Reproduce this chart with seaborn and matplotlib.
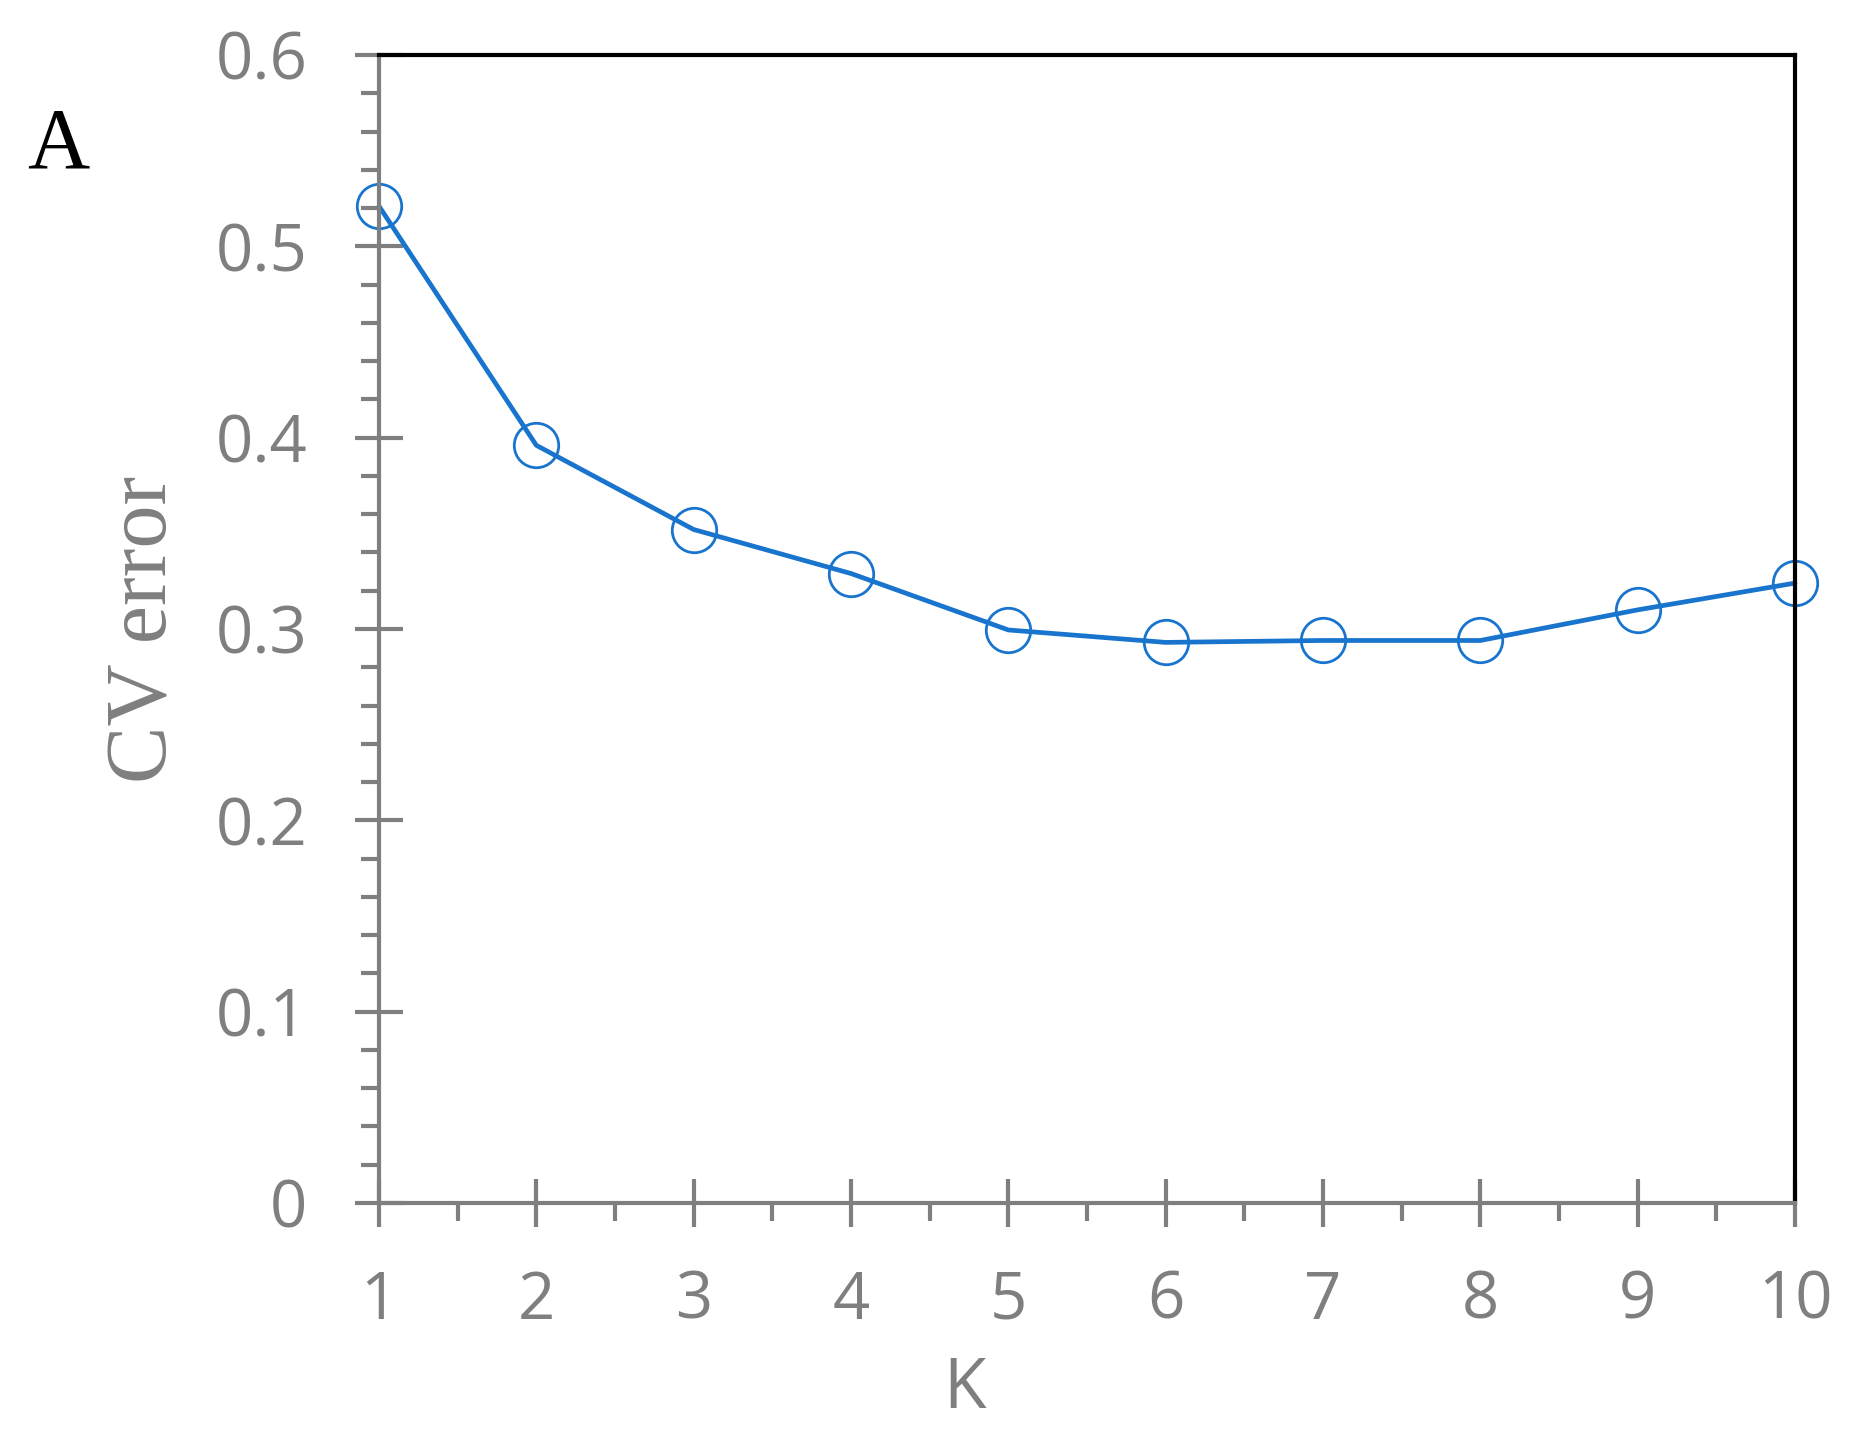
import numpy as np
import pandas as pd
import matplotlib
matplotlib.use('Agg')
import matplotlib.pyplot as plt
from matplotlib.ticker import MultipleLocator, FuncFormatter
import seaborn as sns

# cross-validation error for each K
k_vals  = [1, 2, 3, 4, 5, 6, 7, 8, 9, 10]
cv_err  = [0.521, 0.396, 0.352, 0.329, 0.2995, 0.293, 0.294, 0.294, 0.310, 0.324]

sns.set_style('white')
plt.rcParams['font.family'] = ['Open Sans', 'DejaVu Sans']

gray = '#7F7F7F'; blue = '#1874CD'

fig = plt.figure(figsize=(18.57, 14.31), dpi=100)
ax = fig.add_axes([379/1857, 228/1431, 1416/1857, 1148/1431])

df = pd.DataFrame({'K': k_vals, 'CV': cv_err})
sns.lineplot(data=df, x='K', y='CV', ax=ax, color=blue, linewidth=3.4,
             marker='o', markersize=32, markerfacecolor='none',
             markeredgecolor=blue, markeredgewidth=2.0)
for ln in ax.lines:
    ln.set_clip_on(False); ln.set_linewidth(3.4)

ax.set_xlim(1, 10); ax.set_ylim(0, 0.6)
ax.xaxis.set_major_locator(MultipleLocator(1)); ax.xaxis.set_minor_locator(MultipleLocator(0.5))
ax.yaxis.set_major_locator(MultipleLocator(0.1)); ax.yaxis.set_minor_locator(MultipleLocator(0.02))
ax.yaxis.set_major_formatter(FuncFormatter(lambda v, p: '0' if abs(v) < 1e-9 else '%.1f' % v))

for side in ['left', 'bottom']:
    ax.spines[side].set_color(gray); ax.spines[side].set_linewidth(3)
for side in ['top', 'right']:
    ax.spines[side].set_color('black'); ax.spines[side].set_linewidth(3)

ax.tick_params(axis='both', which='major', direction='inout', length=35, width=3,
               color=gray, labelcolor=gray, labelsize=47)
ax.tick_params(axis='both', which='minor', direction='out', length=13, width=3, color=gray)
ax.tick_params(axis='y', which='major', pad=34, left=True)
ax.tick_params(axis='x', which='major', pad=30, bottom=True)
ax.tick_params(axis='both', which='minor', left=True, bottom=True)

ax.set_xlabel('K', fontsize=50, color=gray)
ax.xaxis.set_label_coords((965-379)/1416, (1203-1408)/1148)
ax.xaxis.label.set_va('baseline')

ax.set_ylabel('CV error', fontsize=62, color=gray, family='Liberation Serif')
ax.yaxis.set_label_coords((186-379)/1416, 0.5)

fig.text(27/1857, (1431-167)/1431, 'A', fontsize=62, color='black',
         family='Liberation Serif', va='baseline', ha='left')

fig.savefig('out.png', dpi=100)
